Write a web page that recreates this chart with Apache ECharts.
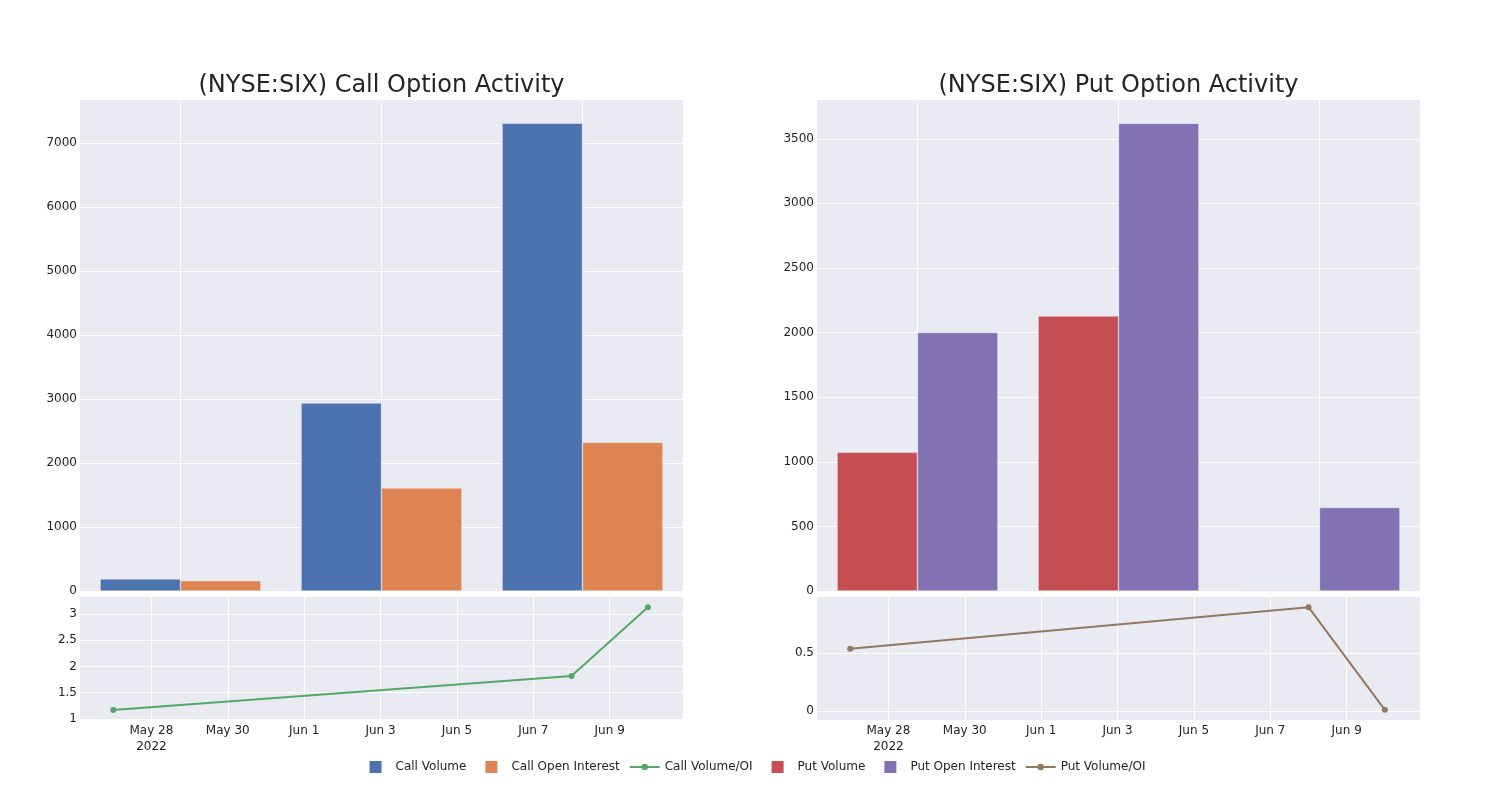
<!DOCTYPE html>
<html>
<head>
<meta charset="utf-8">
<script src="https://cdn.jsdelivr.net/npm/echarts@6/dist/echarts.min.js"></script>
<style>html,body{margin:0;padding:0;background:#fff}#c{width:1500px;height:800px}</style>
</head>
<body>
<div id="c"></div>
<script>
// ---- data ----
const dates = ['2022-05-27', '2022-06-08', '2022-06-10'];
const callVolume = [188, 2937, 7310];
const callOpenInterest = [161, 1609, 2323];
const callVolumeOI = [1.17, 1.82, 3.13];
const putVolume = [1073, 2128, 6];
const putOpenInterest = [2000, 3619, 646];
const putVolumeOI = [0.54, 0.90, 0.01];

const callBarTicks = [0, 1000, 2000, 3000, 4000, 5000, 6000, 7000];
const putBarTicks = [0, 500, 1000, 1500, 2000, 2500, 3000, 3500];
const callRatioTicks = [1, 1.5, 2, 2.5, 3];
const putRatioTicks = [0, 0.5];
const dateTicks = ['2022-05-28', '2022-05-30', '2022-06-01', '2022-06-03', '2022-06-05', '2022-06-07', '2022-06-09'];

// ---- helpers ----
const DAY = 86400000;
// day number (days since 1970-01-01, UTC)
function dnum(s) { const p = s.split('-').map(Number); return Date.UTC(p[0], p[1] - 1, p[2]) / DAY; }
const MON = ['Jan','Feb','Mar','Apr','May','Jun','Jul','Aug','Sep','Oct','Nov','Dec'];
const firstTick = dnum(dateTicks[0]);
function fmtDate(v) {
  const d = new Date(Math.round(v) * DAY);
  let s = MON[d.getUTCMonth()] + ' ' + d.getUTCDate();
  if (Math.abs(v - firstTick) < 0.01) s += '\n' + d.getUTCFullYear();
  return s;
}
function fmtNum(v) { return String(Math.round(v * 1000) / 1000); }
const tickDays = dateTicks.map(dnum);
const FONT = 'DejaVu Sans';
const TXT = 'rgb(36,36,36)';
const BG = '#EAEAF2';
const C = { cv: '#4C72B0', coi: '#DD8452', cr: '#55A868', pv: '#C44E52', poi: '#8172B3', pr: '#937860' };

const gridTopH = 491, gridBotTop = 597, gridBotH = 123, gridW = 603;
const grids = [
  { left: 80, top: 100, width: gridW, height: gridTopH },
  { left: 80, top: gridBotTop, width: gridW, height: gridBotH },
  { left: 817, top: 100, width: gridW, height: gridTopH },
  { left: 817, top: gridBotTop, width: gridW, height: gridBotH }
].map(g => Object.assign({ show: true, backgroundColor: BG, borderWidth: 0, containLabel: false }, g));

const splitWhite = { show: true, lineStyle: { color: '#ffffff', width: 1 } };
const labelStyle = { color: TXT, fontFamily: FONT, fontSize: 12 };

function barX(gi) {
  return {
    gridIndex: gi, type: 'category', data: dates,
    axisLine: { show: false }, axisTick: { show: false }, axisLabel: { show: false },
    splitLine: { show: true, alignWithLabel: true, lineStyle: { color: '#ffffff', width: 1 } }
  };
}
const xMin = dnum(dates[0]) - 0.87;
const xMax = dnum(dates[dates.length - 1]) + 0.92;
function dayX(gi) {
  return {
    gridIndex: gi, type: 'value', min: xMin, max: xMax,
    axisLine: { show: false },
    axisTick: { show: false, customValues: tickDays },
    axisLabel: Object.assign({ customValues: tickDays, formatter: fmtDate, margin: 3, lineHeight: 16, hideOverlap: false }, labelStyle),
    splitLine: splitWhite
  };
}
function valY(gi, min, max, ticks) {
  return {
    gridIndex: gi, type: 'value', min: min, max: max,
    axisLine: { show: false },
    axisTick: { show: false, customValues: ticks },
    axisLabel: Object.assign({ customValues: ticks, margin: 3, formatter: fmtNum }, labelStyle),
    splitLine: splitWhite
  };
}

const barBorder = { borderColor: 'rgb(234,234,242)', borderWidth: 0.5 };
function barSeries(name, data, color, gi) {
  return {
    name: name, type: 'bar', xAxisIndex: gi, yAxisIndex: gi, data: data,
    barGap: '0%', barCategoryGap: '20%',
    itemStyle: Object.assign({ color: color }, barBorder)
  };
}
function lineSeries(name, vals, color, gi) {
  return {
    name: name, type: 'line', xAxisIndex: gi, yAxisIndex: gi,
    data: dates.map((d, i) => [dnum(d), vals[i]]),
    symbol: 'circle', symbolSize: 6, showSymbol: true,
    lineStyle: { color: color, width: 2 }, itemStyle: { color: color }
  };
}

const SQ = 'path://M0,0M36,14M15,1h12v12h-12z';
const LN = 'path://M0,0M36,14M6,6.1h30v1.8h-30zM21,7m-3.2,0a3.2,3.2 0 1,1 6.4,0a3.2,3.2 0 1,1 -6.4,0z';
function legItem(name, icon, color) {
  return { name: name, icon: icon, itemStyle: { color: color, borderWidth: 0 } };
}

const option = {
  animation: false,
  backgroundColor: '#ffffff',
  textStyle: { fontFamily: FONT },
  title: [
    { text: '(NYSE:SIX) Call Option Activity', left: 381.5, top: 74, textAlign: 'center', padding: 0,
      textStyle: { fontFamily: FONT, fontSize: 24, fontWeight: 'normal', color: TXT } },
    { text: '(NYSE:SIX) Put Option Activity', left: 1118.5, top: 74, textAlign: 'center', padding: 0,
      textStyle: { fontFamily: FONT, fontSize: 24, fontWeight: 'normal', color: TXT } }
  ],
  legend: {
    left: 'center', top: 760, itemWidth: 36, itemHeight: 14, itemGap: 4, padding: 0,
    textStyle: { fontFamily: FONT, fontSize: 12, color: TXT },
    data: [
      legItem('Call Volume', SQ, C.cv),
      legItem('Call Open Interest', SQ, C.coi),
      legItem('Call Volume/OI', LN, C.cr),
      legItem('Put Volume', SQ, C.pv),
      legItem('Put Open Interest', SQ, C.poi),
      legItem('Put Volume/OI', LN, C.pr)
    ]
  },
  grid: grids,
  xAxis: [barX(0), dayX(1), barX(2), dayX(3)],
  yAxis: [
    valY(0, 0, 7675, callBarTicks),
    valY(1, 0.98, 3.324, callRatioTicks),
    valY(2, 0, 3800, putBarTicks),
    valY(3, -0.078, 0.988, putRatioTicks)
  ],
  series: [
    barSeries('Call Volume', callVolume, C.cv, 0),
    barSeries('Call Open Interest', callOpenInterest, C.coi, 0),
    lineSeries('Call Volume/OI', callVolumeOI, C.cr, 1),
    barSeries('Put Volume', putVolume, C.pv, 2),
    barSeries('Put Open Interest', putOpenInterest, C.poi, 2),
    lineSeries('Put Volume/OI', putVolumeOI, C.pr, 3)
  ]
};
const chart = echarts.init(document.getElementById('c'), null, { renderer: 'canvas' });
chart.setOption(option);
</script>
</body>
</html>
